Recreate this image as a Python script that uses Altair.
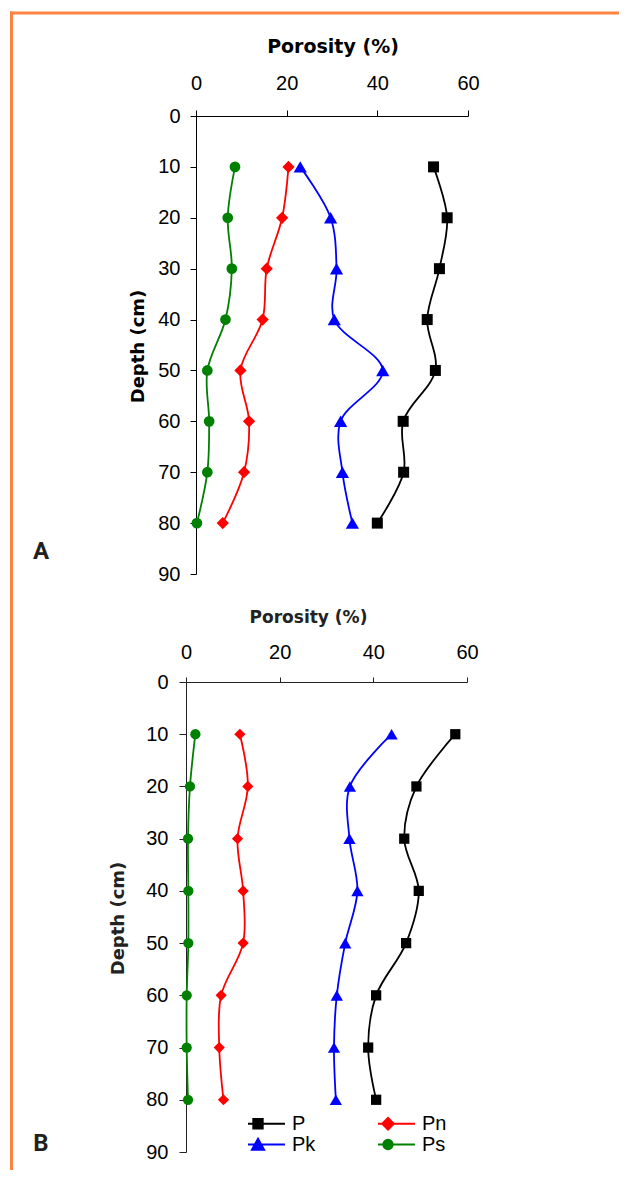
import altair as alt
import pandas as pd

# ---------------- data ----------------
depth = [10, 20, 30, 40, 50, 60, 70, 80]
series_names = ["P", "Pn", "Pk", "Ps"]
series_colors = ["#000000", "#ff0000", "#0000ff", "#008000"]
series_shapes = ["square", "diamond", "triangle-up", "circle"]

# Panel A porosity (%)
a_p = [52.4, 55.4, 53.7, 51.0, 52.8, 45.7, 45.8, 40.0]
a_pn = [20.4, 19.0, 15.6, 14.7, 9.8, 11.7, 10.6, 5.9]
a_pk = [23.0, 29.7, 31.0, 30.5, 41.2, 31.9, 32.3, 34.5]
a_ps = [8.6, 7.0, 7.9, 6.5, 2.5, 2.9, 2.5, 0.2]

# Panel B porosity (%)
b_p = [57.5, 49.2, 46.6, 49.7, 47.0, 40.6, 38.9, 40.6]
b_pn = [11.5, 13.2, 11.0, 12.2, 12.2, 7.5, 7.1, 8.0]
b_pk = [43.9, 35.0, 34.9, 36.6, 34.0, 32.2, 31.6, 32.0]
b_ps = [2.0, 0.85, 0.43, 0.5, 0.5, 0.15, 0.15, 0.43]

x_ticks = [0, 20, 40, 60]
y_ticks = [0, 10, 20, 30, 40, 50, 60, 70, 80, 90]
x_title = "Porosity (%)"
y_title = "Depth (cm)"
panel_labels = ["A", "B"]

# legend entries in column-major order (col 1: P, Pk ; col 2: Pn, Ps)
legend_order = ["P", "Pk", "Pn", "Ps"]
legend_colors = ["#000000", "#0000ff", "#ff0000", "#008000"]
# legend symbols: line through marker (unit coords)
legend_paths = [
    "M-4.9,0H4.9M-0.85,-0.85H0.85V0.85H-0.85Z",
    "M-4.9,0H4.9M0,-1.05L1.1,0.95L-1.1,0.95Z",
    "M-4.9,0H4.9M-1.05,0L0,-1.05L1.05,0L0,1.05Z",
    "M-4.9,0H4.9M-0.85,0A0.85,0.85 0 1,0 0.85,0A0.85,0.85 0 1,0 -0.85,0Z",
]

ORANGE = "#fb8442"
LABEL_FONT = "Liberation Sans"
TITLE_FONT = "DejaVu Sans"


def make_df(vals):
    rows = []
    for name, v in zip(series_names, vals):
        for d, p in zip(depth, v):
            rows.append({"series": name, "depth": d, "porosity": p})
    return pd.DataFrame(rows)


def panel(vals, xrange, yrange, sizes, xaxis, yaxis, lw):
    df = make_df(vals)
    x = alt.X("porosity:Q", scale=alt.Scale(domain=[0, 60], range=xrange, nice=False, zero=False), axis=xaxis)
    y = alt.Y("depth:Q", scale=alt.Scale(domain=[0, 90], range=yrange, nice=False, zero=False), axis=yaxis)
    layers = []
    for name, color in zip(series_names, series_colors):
        sub = df[df["series"] == name]
        layers.append(
            alt.Chart(sub).mark_line(color=color, strokeWidth=lw, interpolate="catmull-rom")
            .encode(x=x, y=y, order=alt.Order("depth:Q"))
        )
    for name, color, shape, size in zip(series_names, series_colors, series_shapes, sizes):
        sub = df[df["series"] == name]
        layers.append(
            alt.Chart(sub).mark_point(shape=shape, filled=True, size=size, color=color, opacity=1)
            .encode(x=x, y=y)
        )
    return alt.layer(*layers)


def xaxis(offset, title_x, title_y, title_size, label_pad, tick, col):
    return alt.Axis(
        orient="top", offset=offset, values=x_ticks, title=x_title,
        titleFont=TITLE_FONT, titleFontWeight="bold", titleFontSize=title_size, titleColor=col,
        titleX=title_x, titleY=title_y, titleAlign="center", titleBaseline="middle", titleAngle=0,
        labelFont=LABEL_FONT, labelFontSize=20, labelColor="black", labelPadding=label_pad,
        labelFlush=False, labelOverlap=False, tickSize=tick, tickColor=col, domainColor=col,
        tickWidth=1, domainWidth=1, grid=False,
    )


def yaxis(offset, title_x, title_y, title_size, label_pad, tick, col):
    return alt.Axis(
        orient="left", offset=offset, values=y_ticks, title=y_title,
        titleFont=TITLE_FONT, titleFontWeight="bold", titleFontSize=title_size, titleColor=col,
        titleX=title_x, titleY=title_y, titleAlign="center", titleBaseline="middle", titleAngle=270,
        labelFont=LABEL_FONT, labelFontSize=20, labelColor="black", labelPadding=label_pad,
        labelFlush=False, labelOverlap=False, tickSize=tick, tickColor=col, domainColor=col,
        tickWidth=1, domainWidth=1, grid=False,
    )


panel_a = panel(
    [a_p, a_pn, a_pk, a_ps], [188, 460], [108, 566], [121, 150, 175, 115],
    xaxis(-108, 324.5, -70, 19, 17, 6, "black"),
    yaxis(-188, -58, 338, 18, 10, 6, "black"),
    1.8,
)

panel_b = panel(
    [b_p, b_pn, b_pk, b_ps], [178, 459], [674, 1144], [105, 125, 150, 105],
    xaxis(-674, 300, -65, 17, 15, 5, "#222222"),
    yaxis(-178, -68, 910, 18, 11, 7, "#222222"),
    1.8,
)

leg = alt.Legend(
    orient="none", legendX=240, legendY=1106, columns=2, title=None,
    symbolSize=121, symbolStrokeWidth=2, symbolOpacity=1,
    labelFont=LABEL_FONT, labelFontSize=20, labelColor="black", labelOffset=24,
    columnPadding=62, rowPadding=0, padding=0, clipHeight=19,
)
legend_layer = (
    alt.Chart(pd.DataFrame({"series": legend_order}))
    .transform_filter("false")
    .mark_point(filled=True, size=121, strokeWidth=2, opacity=1)
    .encode(
        shape=alt.Shape("series:N", scale=alt.Scale(domain=legend_order, range=legend_paths), legend=leg),
        fill=alt.Fill("series:N", scale=alt.Scale(domain=legend_order, range=legend_colors), legend=leg),
        stroke=alt.Stroke("series:N", scale=alt.Scale(domain=legend_order, range=legend_colors), legend=leg),
    )
)

one = pd.DataFrame({"k": [0]})
frame_left = alt.Chart(one).mark_rule(color=ORANGE, strokeWidth=3).encode(
    x=alt.value(3.5), y=alt.value(3.5), y2=alt.value(1162)
)
frame_top = alt.Chart(one).mark_rule(color=ORANGE, strokeWidth=3).encode(
    x=alt.value(2), x2=alt.value(611), y=alt.value(5)
)

label_font = "Liberation Sans Narrow, Roboto, sans-serif"
label_a = alt.Chart(pd.DataFrame({"t": [panel_labels[0]]})).mark_text(
    font=label_font, fontWeight="bold", fontSize=24, color="#231f20", align="center", baseline="middle"
).encode(x=alt.value(33), y=alt.value(544), text="t:N")
label_b = alt.Chart(pd.DataFrame({"t": [panel_labels[1]]})).mark_text(
    font=label_font, fontWeight="bold", fontSize=24, color="#231f20", align="center", baseline="middle"
).encode(x=alt.value(33), y=alt.value(1136), text="t:N")

chart = (
    alt.layer(frame_left, frame_top, panel_a, panel_b, legend_layer, label_a, label_b)
    .resolve_scale(x="independent", y="independent")
    .properties(width=611, height=1162, padding=0, autosize=alt.AutoSizeParams(type="none"))
    .configure_view(strokeWidth=0)
)

chart.save("out.html", embed_options={"renderer": "svg", "actions": False})
